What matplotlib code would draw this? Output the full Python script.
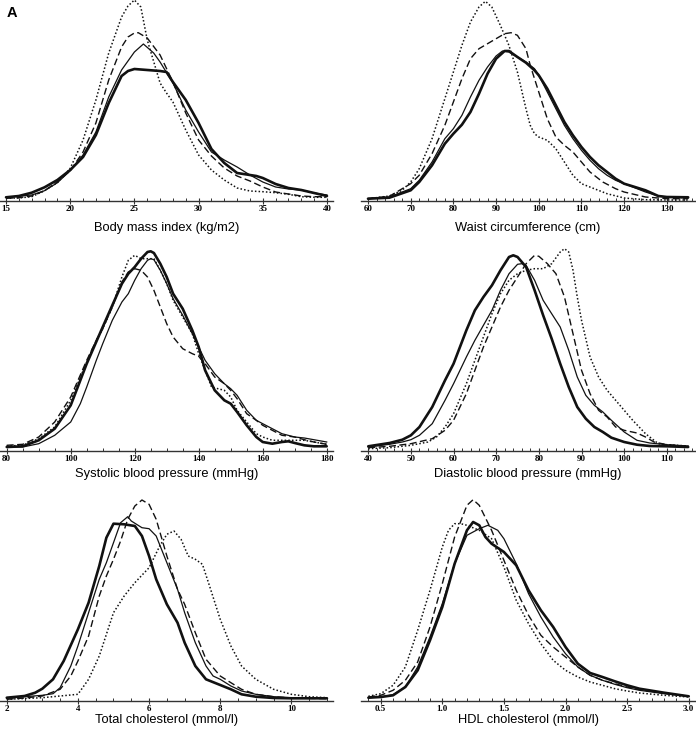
import matplotlib
matplotlib.use("Agg")
import matplotlib.pyplot as plt
from matplotlib.ticker import MultipleLocator, FormatStrFormatter

# ---- Body mass index (kg/m2) ----
bmi_x_thick = [15, 16, 17, 18, 19, 20, 21, 22, 23, 24, 24.5, 25, 26, 27, 27.5, 28, 29, 30, 31, 32, 33, 34, 34.5, 35, 36, 37, 38, 39, 40]
bmi_y_thick = [3.7, 5, 8.3, 13.7, 21, 31, 44, 66, 98, 125, 130, 132, 131, 130, 129, 119, 101, 78, 52, 38, 28, 26, 25, 23, 17, 13, 11, 8, 5]
bmi_x_thin = [15, 17, 18, 19, 20, 21, 22, 23, 24, 25, 25.7, 26.5, 27, 28, 29, 30, 31, 32, 33, 34, 35, 36, 37, 38, 39, 40]
bmi_y_thin = [3.7, 6, 10.3, 18.3, 30.3, 46, 69, 104, 131, 149, 157, 148, 139, 118, 91, 69, 49, 41, 34, 26, 19, 14, 12, 11, 8, 6]
bmi_x_dash = [15, 16, 17, 18, 19, 20, 21, 22, 23, 24, 24.5, 25, 25.3, 26, 27, 28, 29, 30, 31, 32, 33, 34, 35, 36, 37, 38, 39, 40]
bmi_y_dash = [2.7, 3.3, 5, 10.3, 19.3, 30.3, 49, 78, 121, 154, 164, 168, 168.3, 163, 146, 119, 88, 61, 45, 33, 25, 20, 14, 9, 7, 5, 4.3, 4.3]
bmi_x_dot = [15, 16, 17, 18, 19, 20, 21, 22, 23, 24, 24.5, 25, 25.5, 26, 27, 27.5, 28, 29, 30, 31, 32, 33, 34, 35, 36, 37, 38, 39, 40]
bmi_y_dot = [2.7, 3, 4.3, 10.3, 18.3, 32.7, 61, 101, 148, 184, 195, 201, 194, 161, 118, 108, 99, 71, 46, 31, 21, 13, 10, 9.3, 8.3, 6.7, 4.3, 3.7, 3.7]

# ---- Waist circumference (cm) ----
waist_x_thick = [60, 65, 70, 72, 75, 78, 80, 82, 84, 86, 88, 90, 92, 93, 95, 97, 99, 100, 102, 104, 106, 108, 110, 112, 114, 116, 118, 120, 122, 125, 128, 130, 135]
waist_y_thick = [2.3, 3.3, 10.7, 19, 35.7, 57.3, 67.3, 76.3, 89, 107.3, 127.3, 142.3, 150, 150, 144, 138.3, 130.7, 125.7, 112.3, 95.7, 79, 65.7, 54, 44, 35.7, 29, 22.3, 17.3, 14.7, 10.7, 5, 4, 3.7]
waist_x_thin = [60, 65, 70, 72, 75, 78, 80, 82, 84, 86, 88, 90, 91.5, 93, 95, 97, 99, 100, 102, 104, 106, 108, 110, 112, 114, 116, 118, 120, 122, 125, 128, 130, 135]
waist_y_thin = [2.3, 4, 12.3, 20.7, 39, 62.3, 72.3, 85.7, 104, 120.7, 134, 145, 150, 149, 144, 139, 132.3, 125.7, 109, 92.3, 75.7, 62.3, 50.7, 40.7, 32.3, 25.7, 20.7, 17.3, 14, 9, 5, 4, 3]
waist_x_dash = [60, 65, 70, 72, 75, 78, 80, 82, 84, 86, 88, 90, 92, 93.5, 95, 97, 98, 100, 102, 104, 106, 108, 110, 112, 115, 118, 120, 125, 130, 135]
waist_y_dash = [2.3, 4.7, 17.3, 25.7, 47.3, 75.7, 99, 122.3, 142.3, 152.3, 157.3, 162.3, 167.3, 168.3, 165.7, 152.3, 135.7, 109, 82.3, 64, 55.7, 49, 39, 29, 19, 12.3, 9, 4, 2.3, 2.3]
waist_x_dot = [60, 65, 68, 70, 72, 75, 78, 80, 82, 84, 86, 87.5, 89, 91, 93, 95, 97, 98, 99, 100, 102, 104, 106, 108, 110, 113, 116, 120, 125, 130, 135]
waist_y_dot = [2.3, 5, 10.7, 19, 32.3, 62.3, 102.3, 129, 155.7, 179, 194, 199.7, 194, 175.7, 155.7, 129, 92.3, 75.7, 67.3, 64, 60.7, 52.3, 39, 25.7, 17.3, 12.3, 7.3, 3, 1.3, 1, 1]

# ---- Systolic blood pressure (mmHg) ----
sbp_x_thick = [80, 85, 90, 95, 100, 105, 110, 113, 116, 118, 120, 122, 124, 125, 126, 128, 130, 132, 135, 138, 140, 142, 145, 148, 150, 152, 155, 158, 160, 163, 166, 168, 170, 173, 176, 180]
sbp_y_thick = [4, 4.7, 10.7, 22.3, 45.7, 87.3, 124, 145.7, 167.3, 177.3, 184, 192.3, 199, 199.7, 198, 187.3, 174, 157.3, 142.3, 120.7, 104, 80.7, 60.7, 50.7, 47.3, 39, 25.7, 14, 9, 7.3, 9, 9.7, 8, 5.7, 4.7, 4.7]
sbp_x_thin = [80, 85, 90, 95, 100, 103, 105, 108, 110, 113, 116, 118, 120, 122, 124, 125, 126, 128, 130, 132, 135, 138, 140, 142, 145, 148, 150, 152, 155, 158, 160, 163, 166, 170, 173, 176, 180]
sbp_y_thin = [4, 4, 7.3, 15.7, 29, 47.3, 64, 90.7, 107.3, 130.7, 149, 157.3, 170.7, 182.3, 190.7, 192.3, 191.3, 180.7, 167.3, 152.3, 135.7, 117.3, 104, 90.7, 77.3, 67.3, 62.3, 55.7, 40.7, 30.7, 27.3, 22.3, 17.3, 14, 13, 11.3, 9]
sbp_x_dash = [80, 85, 90, 95, 100, 105, 108, 110, 113, 116, 118, 120, 122, 124, 126, 128, 130, 132, 135, 138, 140, 142, 145, 148, 150, 152, 155, 158, 160, 163, 166, 170, 173, 176, 180]
sbp_y_dash = [5.7, 6.7, 14, 29, 54, 90.7, 110.7, 122.3, 144, 169, 179, 182.3, 180.7, 174, 160.7, 144, 127.3, 114, 102.3, 97.3, 94.7, 87.3, 74, 67.3, 60.7, 52.3, 37.3, 30.7, 25.7, 20.7, 15.7, 14, 11.3, 9, 6.7]
sbp_x_dot = [80, 85, 90, 95, 100, 105, 108, 110, 113, 116, 118, 120, 122, 124, 126, 128, 130, 132, 135, 138, 140, 142, 144, 146, 148, 150, 152, 155, 158, 160, 163, 166, 170, 173, 176, 180]
sbp_y_dot = [5, 5.7, 12.3, 24, 50.7, 89, 110.7, 122.3, 144, 174, 190.7, 195.7, 192.3, 192.3, 192.3, 180.7, 167.3, 150.7, 134, 117.3, 97.3, 80.7, 64, 62.3, 60.7, 54, 40.7, 29, 17.3, 14, 10.7, 10.7, 10.7, 10.7, 9, 6.7]

# ---- Diastolic blood pressure (mmHg) ----
dbp_x_thick = [40, 45, 48, 50, 52, 55, 58, 60, 63, 65, 67, 69, 71, 73, 74, 75, 77, 79, 81, 83, 85, 87, 89, 91, 93, 95, 97, 100, 103, 106, 110, 115]
dbp_y_thick = [4.7, 8, 11.3, 15.7, 24, 44, 70.7, 87.3, 120.7, 140.7, 154, 165.7, 180.7, 194, 195.7, 194, 184, 160.7, 135.7, 112.3, 87.3, 64, 44, 32.3, 24, 19, 13.3, 9, 6.3, 5, 4.7, 4]
dbp_x_thin = [40, 45, 48, 50, 52, 55, 58, 60, 63, 65, 67, 69, 71, 73, 75, 76, 77, 79, 81, 83, 85, 87, 89, 91, 93, 95, 97, 100, 103, 106, 110, 115]
dbp_y_thin = [4, 6.7, 9, 11.3, 15.7, 27.3, 50.7, 67.3, 94, 110.7, 125.7, 140.7, 160.7, 177.3, 186.7, 187.3, 185.7, 170.7, 150.7, 137.3, 124, 100.7, 74, 55.7, 45.7, 39, 30.7, 19, 10.7, 8, 6.3, 5]
dbp_x_dash = [40, 45, 50, 55, 58, 60, 63, 65, 67, 69, 71, 73, 75, 77, 79, 80, 82, 84, 86, 88, 90, 92, 94, 96, 98, 100, 103, 105, 107, 110, 115]
dbp_y_dash = [3.3, 4.7, 7.3, 12.3, 20.7, 30.7, 57.3, 80.7, 104, 124, 144, 160.7, 174, 187.3, 195.7, 194.7, 187.3, 177.3, 154, 117.3, 80.7, 57.3, 40.7, 34, 24, 20.7, 18, 14, 9, 6.3, 4.7]
dbp_x_dot = [40, 45, 50, 54, 56, 58, 60, 63, 65, 67, 69, 71, 73, 75, 77, 79, 81, 83, 85, 86, 87, 88, 89, 90, 92, 94, 96, 98, 100, 102, 105, 108, 110, 115]
dbp_y_dot = [2.3, 3.3, 5.7, 9, 14, 24, 37.3, 67.3, 90.7, 114, 137.3, 157.3, 170.7, 177.3, 180.7, 182.3, 182.3, 187.3, 199, 202.3, 199, 180.7, 154, 130.7, 94, 74, 60.7, 50.7, 40.7, 30.7, 17.3, 7.3, 6.3, 5]

# ---- Total cholesterol (mmol/l) ----
tc_x_thick = [2, 2.5, 2.8, 3, 3.3, 3.6, 4, 4.3, 4.6, 4.8, 5, 5.3, 5.6, 5.8, 6, 6.2, 6.5, 6.8, 7, 7.3, 7.6, 8, 8.3, 8.6, 9, 9.5, 10, 11]
tc_y_thick = [3.3, 5, 8.3, 12.3, 21.7, 40, 71.7, 98.3, 135, 163.3, 177.3, 176.7, 175, 165, 145, 121.7, 96.7, 78.3, 58.3, 35, 21.7, 16, 11.7, 6.7, 4.3, 3, 2.7, 2.7]
tc_x_thin = [2, 2.5, 3, 3.3, 3.5, 3.8, 4, 4.3, 4.6, 4.8, 5, 5.2, 5.4, 5.5, 5.8, 6, 6.2, 6.5, 6.8, 7, 7.3, 7.6, 7.8, 8, 8.3, 8.6, 9, 9.5, 10, 11]
tc_y_thin = [2.7, 4.3, 5.7, 7.3, 13.3, 35, 55, 88.3, 121.7, 138.3, 158.3, 178.3, 184.3, 180, 173.3, 172.3, 165, 138.3, 111.7, 88.3, 58.3, 35, 25, 21.7, 15, 10, 6.7, 4.3, 3.3, 2.7]
tc_x_dash = [2, 2.5, 3, 3.5, 3.8, 4, 4.3, 4.6, 4.8, 5, 5.2, 5.4, 5.6, 5.8, 6, 6.2, 6.5, 6.8, 7, 7.3, 7.6, 8, 8.3, 8.6, 9, 9.5, 10, 11]
tc_y_dash = [1.7, 3, 5, 11.7, 25, 40, 65, 105, 125, 141.7, 160, 181.7, 195, 201, 196.7, 181.7, 145, 111.7, 96.7, 68.3, 41.7, 25, 18.3, 11.7, 6.7, 4.3, 3, 2.3]
tc_x_dot = [2, 3, 3.5, 4, 4.3, 4.6, 5, 5.3, 5.6, 6, 6.3, 6.5, 6.7, 6.9, 7.1, 7.3, 7.5, 7.7, 8, 8.3, 8.6, 9, 9.5, 10, 10.5, 11]
tc_y_dot = [1.7, 3.3, 5, 6.7, 21.7, 45, 88.3, 105, 118.3, 133.3, 155, 166.7, 170, 161.7, 145, 141.7, 136.7, 115, 81.7, 55, 35, 21.7, 11.7, 6.7, 4.3, 3.3]

# ---- HDL cholesterol (mmol/l) ----
hdl_x_thick = [0.4, 0.5, 0.6, 0.7, 0.8, 0.9, 1.0, 1.1, 1.2, 1.25, 1.3, 1.35, 1.4, 1.5, 1.6, 1.7, 1.8, 1.9, 2.0, 2.1, 2.2, 2.3, 2.4, 2.5, 2.6, 2.8, 3.0]
hdl_y_thick = [3.3, 4, 5.7, 14, 30.7, 60.7, 94, 137.3, 170.7, 179, 175.7, 164, 157.3, 149, 135.7, 110.7, 90.7, 74, 54, 37.3, 28, 24, 19.7, 15.7, 12.3, 8.3, 4.7]
hdl_x_thin = [0.4, 0.5, 0.6, 0.7, 0.8, 0.9, 1.0, 1.1, 1.2, 1.3, 1.37, 1.45, 1.5, 1.6, 1.7, 1.8, 1.9, 2.0, 2.1, 2.2, 2.3, 2.4, 2.5, 2.6, 2.8, 3.0]
hdl_y_thin = [3.3, 4, 6.3, 14, 34, 64, 97.3, 137.3, 165.7, 172.3, 175.7, 170.7, 162.3, 137.3, 107.3, 84, 64, 47.3, 34, 25.7, 20.7, 16.7, 13.3, 10.7, 7.3, 4.7]
hdl_x_dash = [0.4, 0.5, 0.6, 0.7, 0.8, 0.9, 1.0, 1.1, 1.2, 1.25, 1.3, 1.4, 1.5, 1.6, 1.7, 1.8, 1.9, 2.0, 2.1, 2.2, 2.3, 2.4, 2.5, 2.6, 2.8, 3.0]
hdl_y_dash = [4, 5.7, 10.7, 20.7, 39, 74, 117.3, 164, 195.7, 201.3, 195.7, 170.7, 140.7, 110.7, 85.7, 65.7, 54, 44, 34, 25.7, 20.7, 17.3, 14, 11.3, 8, 4.7]
hdl_x_dot = [0.4, 0.5, 0.6, 0.7, 0.8, 0.9, 1.0, 1.05, 1.1, 1.15, 1.2, 1.3, 1.4, 1.5, 1.6, 1.7, 1.8, 1.9, 2.0, 2.1, 2.2, 2.3, 2.4, 2.5, 2.6, 2.8, 3.0]
hdl_y_dot = [4.7, 7.3, 15.7, 34, 70.7, 110.7, 154, 170.7, 177.3, 177.3, 175.7, 170.7, 162.3, 134, 100.7, 77.3, 57.3, 40.7, 30.7, 24, 19, 15.7, 12.3, 10, 8, 5.7, 4]

titulos = ["Body mass index (kg/m2)", "Waist circumference (cm)",
           "Systolic blood pressure (mmHg)", "Diastolic blood pressure (mmHg)",
           "Total cholesterol (mmol/l)", "HDL cholesterol (mmol/l)"]

W, H = 696, 733
fig = plt.figure(figsize=(W / 100, H / 100), dpi=100)

# layout in pixels: (left, right, axis line y, xlim, major step, minor step, fmt, label offset)
paineis = [
    (0, 333, 201, (14.53, 40.47), 5, 1, "%d", 27),
    (361, 695, 201, (58.36, 136.6), 10, 2, "%d", 27),
    (0, 333, 451, (77.9, 181.97), 20, 5, "%d", 23),
    (361, 695, 451, (38.3, 116.6), 10, 2, "%d", 23),
    (0, 333, 701, (1.81, 11.17), 2, 0.5, "%d", 19.5),
    (361, 695, 701, (0.34, 3.051), 0.5, 0.1, "%.1f", 19.5),
]

dados = [
    (bmi_x_thick, bmi_y_thick, bmi_x_thin, bmi_y_thin, bmi_x_dash, bmi_y_dash, bmi_x_dot, bmi_y_dot),
    (waist_x_thick, waist_y_thick, waist_x_thin, waist_y_thin, waist_x_dash, waist_y_dash, waist_x_dot, waist_y_dot),
    (sbp_x_thick, sbp_y_thick, sbp_x_thin, sbp_y_thin, sbp_x_dash, sbp_y_dash, sbp_x_dot, sbp_y_dot),
    (dbp_x_thick, dbp_y_thick, dbp_x_thin, dbp_y_thin, dbp_x_dash, dbp_y_dash, dbp_x_dot, dbp_y_dot),
    (tc_x_thick, tc_y_thick, tc_x_thin, tc_y_thin, tc_x_dash, tc_y_dash, tc_x_dot, tc_y_dot),
    (hdl_x_thick, hdl_y_thick, hdl_x_thin, hdl_y_thin, hdl_x_dash, hdl_y_dash, hdl_x_dot, hdl_y_dot),
]

ALT = 204  # axes height in px
cor = "#111111"

for (esq, dir_, base, xlim, maj, mnr, fmt, off), d, titulo in zip(paineis, dados, titulos):
    ax = fig.add_axes([esq / W, (H - base) / H, (dir_ - esq) / W, ALT / H])
    xk, yk, xt, yt, xd, yd, xp, yp = d
    ax.plot(xp, yp, color=cor, lw=1.1, linestyle=(0, (1, 1.4)), solid_joinstyle="round")
    ax.plot(xd, yd, color=cor, lw=1.0, linestyle=(0, (5, 2.5)), solid_joinstyle="round")
    ax.plot(xt, yt, color=cor, lw=0.9, solid_joinstyle="round")
    ax.plot(xk, yk, color=cor, lw=1.9, solid_joinstyle="round", solid_capstyle="round")

    ax.set_xlim(*xlim)
    ax.set_ylim(0, ALT)
    for s in ["top", "right", "left"]:
        ax.spines[s].set_visible(False)
    ax.spines["bottom"].set_color("#333333")
    ax.spines["bottom"].set_linewidth(1.0)
    ax.set_yticks([])
    ax.patch.set_alpha(0)

    ax.xaxis.set_major_locator(MultipleLocator(maj))
    ax.xaxis.set_minor_locator(MultipleLocator(mnr))
    ax.xaxis.set_major_formatter(FormatStrFormatter(fmt))
    ax.tick_params(axis="x", which="major", direction="inout", length=4.5, width=0.8,
                   color="#333333", pad=0.5, labelsize=6.5)
    ax.tick_params(axis="x", which="minor", direction="in", length=2.5, width=0.7,
                   color="#333333")
    for lab in ax.get_xticklabels():
        lab.set_fontfamily("Liberation Serif")
        lab.set_fontweight("bold")

    ax.set_xlabel(titulo, fontsize=9.3, family="Liberation Sans", va="center")
    ax.xaxis.set_label_coords(0.5, -off / ALT)

fig.text(7 / W, 1 - 17 / H, "A", fontsize=10.5, fontweight="bold",
         family="Liberation Sans", va="baseline", ha="left")

fig.savefig("out.png", dpi=100)
plt.close(fig)
